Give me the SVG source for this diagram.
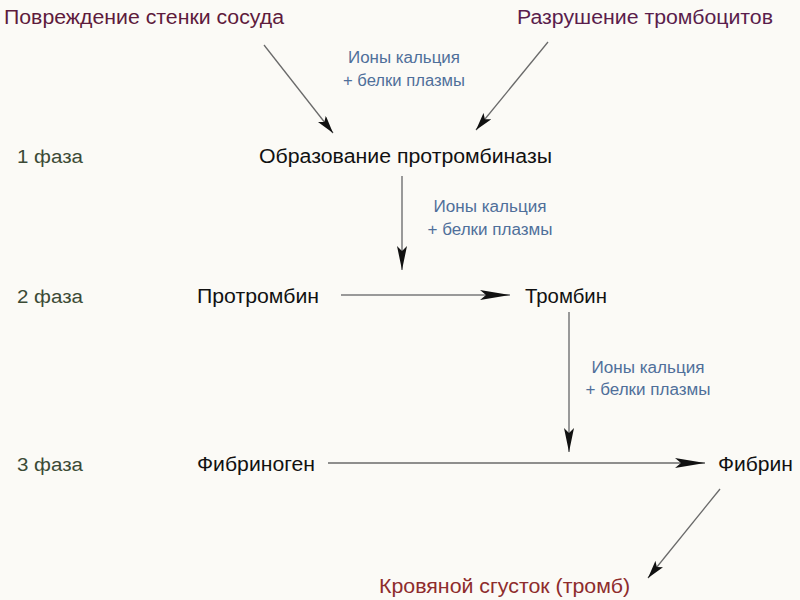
<svg xmlns="http://www.w3.org/2000/svg" width="800" height="600" viewBox="0 0 800 600">
<defs>
<style>
text{font-family:"Liberation Sans",Arial,sans-serif}
.main{font-size:20px;fill:#111}
.phase{font-size:18px;fill:#3b4a35}
.note{font-size:16px;fill:#4f6f9a;text-anchor:middle}
.ln{stroke:#6a6a6a;stroke-width:1.3;fill:none}
.lg{stroke:#999;stroke-width:2;fill:none}
</style>
<marker id="ahS" viewBox="0 0 18 10" refX="18" refY="5" markerWidth="18" markerHeight="10" markerUnits="userSpaceOnUse" orient="auto">
<path d="M0,0 L18,5 L0,10 L4,5 Z" fill="#111"/>
</marker>
<marker id="ahM" viewBox="0 0 24 10" refX="24" refY="5" markerWidth="24" markerHeight="10" markerUnits="userSpaceOnUse" orient="auto">
<path d="M0,0 L24,5 L0,10 L5,5 Z" fill="#111"/>
</marker>
<marker id="ahL" viewBox="0 0 30 10" refX="30" refY="5" markerWidth="30" markerHeight="10" markerUnits="userSpaceOnUse" orient="auto">
<path d="M0,0 L30,5 L0,10 L6,5 Z" fill="#111"/>
</marker>
</defs>
<rect width="800" height="600" fill="#fbfaf6"/>
<g id="connectors">
<line class="ln" x1="264" y1="45" x2="333" y2="133" marker-end="url(#ahS)"/>
<line class="ln" x1="548" y1="42" x2="476" y2="130" marker-end="url(#ahS)"/>
<line class="lg" x1="402" y1="176" x2="402" y2="270" marker-end="url(#ahM)"/>
<line class="lg" x1="341" y1="295" x2="510" y2="295" marker-end="url(#ahL)"/>
<line class="lg" x1="569" y1="312" x2="569" y2="452" marker-end="url(#ahM)"/>
<line class="ln" x1="328" y1="463" x2="705" y2="463" marker-end="url(#ahL)"/>
<line class="ln" x1="720" y1="489" x2="648" y2="578" marker-end="url(#ahS)"/>
</g>
<g id="damage"><text x="4" y="24" class="main" style="fill:#5e1b3c" textLength="280" lengthAdjust="spacingAndGlyphs">Повреждение стенки сосуда</text></g>
<g id="platelets"><text x="517" y="24" class="main" style="fill:#5a1d4c" textLength="256" lengthAdjust="spacingAndGlyphs">Разрушение тромбоцитов</text></g>
<g id="note1"><text class="note" x="404" y="63" textLength="112" lengthAdjust="spacingAndGlyphs">Ионы кальция</text><text class="note" x="404" y="86" textLength="122" lengthAdjust="spacingAndGlyphs">+ белки плазмы</text></g>
<g id="phase1"><text class="phase" x="17" y="163" textLength="66" lengthAdjust="spacingAndGlyphs">1 фаза</text></g>
<g id="prothrombinase"><text class="main" x="259" y="163" textLength="293" lengthAdjust="spacingAndGlyphs">Образование протромбиназы</text></g>
<g id="note2"><text class="note" x="490" y="212" textLength="113" lengthAdjust="spacingAndGlyphs">Ионы кальция</text><text class="note" x="490" y="235" textLength="125" lengthAdjust="spacingAndGlyphs">+ белки плазмы</text></g>
<g id="phase2"><text class="phase" x="17" y="303" textLength="66" lengthAdjust="spacingAndGlyphs">2 фаза</text></g>
<g id="prothrombin"><text class="main" x="197" y="303" textLength="122" lengthAdjust="spacingAndGlyphs">Протромбин</text></g>
<g id="thrombin"><text class="main" x="525" y="303" textLength="82" lengthAdjust="spacingAndGlyphs">Тромбин</text></g>
<g id="note3"><text class="note" x="648" y="373" textLength="113" lengthAdjust="spacingAndGlyphs">Ионы кальция</text><text class="note" x="648" y="395" textLength="125" lengthAdjust="spacingAndGlyphs">+ белки плазмы</text></g>
<g id="phase3"><text class="phase" x="17" y="471" textLength="66" lengthAdjust="spacingAndGlyphs">3 фаза</text></g>
<g id="fibrinogen"><text class="main" x="197" y="471" textLength="118" lengthAdjust="spacingAndGlyphs">Фибриноген</text></g>
<g id="fibrin"><text class="main" x="718" y="471" textLength="75" lengthAdjust="spacingAndGlyphs">Фибрин</text></g>
<g id="clot"><text class="main" x="379" y="593" style="fill:#8e2c2c" textLength="251" lengthAdjust="spacingAndGlyphs">Кровяной сгусток (тромб)</text></g>
</svg>
